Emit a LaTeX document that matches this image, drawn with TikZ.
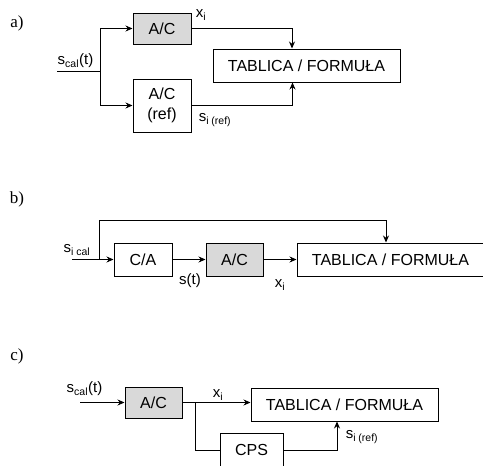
\documentclass[tikz,border=0pt]{standalone}
\usepackage{fontspec}
\setmainfont{Liberation Sans}
\newfontfamily\literafont{Liberation Serif}
\usepackage{tikz}
\usetikzlibrary{positioning}
\usetikzlibrary{arrows.meta}

\tikzset{
  blok/.style={draw, inner sep=0pt, align=center, font=\fontsize{16}{20}\selectfont},
  szary/.style={blok, fill=black!15},
  sygnal/.style={inner sep=0pt, font=\fontsize{15}{18}\selectfont},
  litera/.style={inner sep=0pt, font=\literafont\fontsize{17}{20}\selectfont},
  strz/.style={-{Stealth[length=7pt,width=6pt]}},
}

\begin{document}
\begin{tikzpicture}[x=1pt,y=-1pt,line width=1pt]
\useasboundingbox (0,0) rectangle (483,466);

\node[litera] (la) at (17,23) {a)};
\node[szary, minimum width=58, minimum height=31] (ac1) at (162,28.5) {A/C};
\node[blok, minimum width=58, minimum height=53] (acref) at (162,105.5) {A/C\\(ref)};
\node[blok, minimum width=187, minimum height=33] (tab1) at (306.5,65.5) {TABLICA / FORMUŁA};
\coordinate (we1) at (57,71);
\coordinate (rozg1) at (100,71);
\node[sygnal] (scal1) at (75.5,61) {s\textsubscript{cal}(t)};
\node[sygnal] (x1) at (201,15) {x\textsubscript{i}};
\node[sygnal] (sref1) at (215,120) {s\textsubscript{i (ref)}};
\draw (we1) -- (rozg1);
\draw[strz] (rozg1) |- (ac1);
\draw[strz] (rozg1) |- (acref);
\draw[strz] (ac1) -| ([xshift=-14.5pt]tab1.north);
\draw[strz] (acref) -| ([xshift=-14pt]tab1.south);

\node[litera] (lb) at (17,199.5) {b)};
\node[blok, minimum width=58, minimum height=33] (ca) at (143,259.5) {C/A};
\node[szary, minimum width=57, minimum height=33] (ac2) at (234.5,259.5) {A/C};
\node[blok, minimum width=187, minimum height=33] (tab2) at (390.5,259.5) {TABLICA / FORMUŁA};
\coordinate (we2) at (72,259.5);
\coordinate (rozg2) at (99,259.5);
\coordinate (gora2) at (99,220);
\node[sygnal] (scal2) at (77,250) {s\textsubscript{i cal}};
\node[sygnal] (st2) at (190,281) {s(t)};
\node[sygnal] (x2) at (280,285) {x\textsubscript{i}};
\draw[strz] (we2) -- (ca);
\draw[strz] (rozg2) -- (gora2) -| ([xshift=-4.5pt]tab2.north);
\draw[strz] (ca) -- (ac2);
\draw[strz] (ac2) -- (tab2);

\node[litera] (lc) at (17,356.5) {c)};
\node[szary, minimum width=57, minimum height=31] (ac3) at (153.5,402.5) {A/C};
\node[blok, minimum width=187, minimum height=33] (tab3) at (344.5,404.5) {TABLICA / FORMUŁA};
\node[blok, minimum width=63, minimum height=34] (cps) at (251.5,450) {CPS};
\coordinate (we3) at (80,402.5);
\coordinate (rozg3) at (195,402.5);
\node[sygnal] (scal3) at (84.5,389) {s\textsubscript{cal}(t)};
\node[sygnal] (x3) at (218,395) {x\textsubscript{i}};
\node[sygnal] (sref3) at (362,437) {s\textsubscript{i (ref)}};
\draw[strz] (we3) -- (ac3);
\draw[strz] (ac3) -- (ac3.east -| tab3.west);
\draw (rozg3) |- (cps);
\draw[strz] (cps) -| ([xshift=-7.5pt]tab3.south);
\end{tikzpicture}
\end{document}
